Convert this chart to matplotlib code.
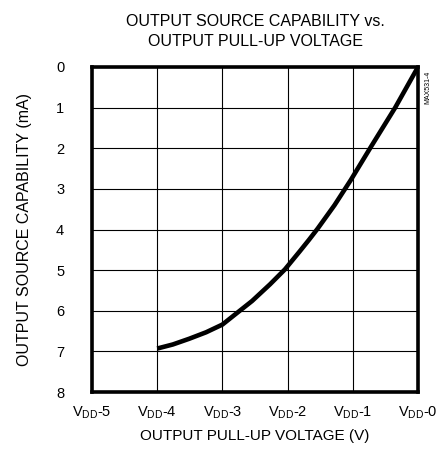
import matplotlib
matplotlib.use("Agg")
import matplotlib.pyplot as plt

plt.rcParams['font.family'] = ['Liberation Sans', 'DejaVu Sans']
plt.rcParams['mathtext.fontset'] = 'custom'
plt.rcParams['mathtext.rm'] = 'Liberation Sans'
plt.rcParams['mathtext.it'] = 'Liberation Sans'

######## DATA
voltage = [-4.0, -3.76, -3.51, -3.25, -3.0, -2.82, -2.545, -2.27, -2.04, -1.81,
           -1.67, -1.54, -1.28, -1.03, -0.72, -0.35, 0.0]
current = [6.93, 6.83, 6.69, 6.53, 6.34, 6.11, 5.76, 5.35, 4.98, 4.53,
           4.25, 3.98, 3.40, 2.78, 1.96, 1.0, 0.0]

x_ticks = [-5, -4, -3, -2, -1, 0]
x_labels = ["V$_{DD}$-5", "V$_{DD}$-4", "V$_{DD}$-3", "V$_{DD}$-2", "V$_{DD}$-1", "V$_{DD}$-0"]
y_ticks = [0, 1, 2, 3, 4, 5, 6, 7, 8]

######## PLOT
fig = plt.figure(figsize=(4.4, 4.57), dpi=100)
ax = fig.add_axes([92 / 440, 1 - 392 / 457, 326 / 440, 325 / 457])

ax.plot(voltage, current, color='black', lw=3.3, solid_capstyle='butt',
        solid_joinstyle='round')

ax.set_xlim(-5, 0)
ax.set_ylim(8, 0)
ax.set_xticks(x_ticks)
ax.set_xticklabels(x_labels)
ax.set_yticks(y_ticks)
ax.tick_params(length=0, labelsize=10.5)
ax.tick_params(axis='y', pad=20)
ax.tick_params(axis='x', pad=9)

ax.grid(True, color='black', lw=0.8)
ax.set_axisbelow(True)
for s in ax.spines.values():
    s.set_linewidth(2.6)

ax.set_xlabel("OUTPUT PULL-UP VOLTAGE (V)", fontsize=11, labelpad=6)
ax.set_ylabel("OUTPUT SOURCE CAPABILITY (mA)", fontsize=11.5, labelpad=17)
ax.set_title("OUTPUT SOURCE CAPABILITY vs.\nOUTPUT PULL-UP VOLTAGE", fontsize=11.5,
             linespacing=1.45, pad=15)

fig.text(428 / 440, 1 - 87 / 457, "MAX531-4", rotation=90, fontsize=5,
         ha='center', va='center')

fig.savefig("out.png", dpi=100)
